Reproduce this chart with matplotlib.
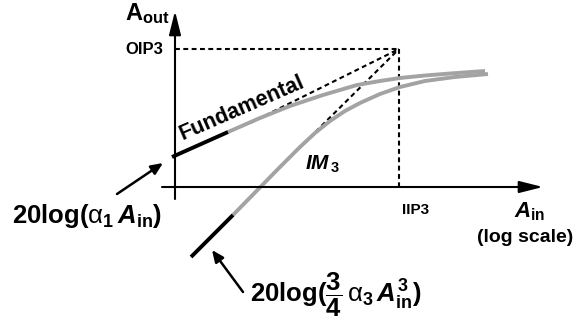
import matplotlib
matplotlib.use("Agg")
import matplotlib.pyplot as plt

plt.rcParams['font.family'] = ['Liberation Sans', 'DejaVu Sans']
plt.rcParams['mathtext.fontset'] = 'custom'
plt.rcParams['mathtext.rm'] = 'Liberation Sans'
plt.rcParams['mathtext.bf'] = 'Liberation Sans:bold'
plt.rcParams['mathtext.it'] = 'Liberation Sans:italic:bold'
plt.rcParams['lines.scale_dashes'] = False

# input level (log scale) vs output level, origin at the axes crossing
fund_lin_x = [-3, 53]
fund_lin_y = [30, 55]
fund_x = [53, 85, 115, 148, 182, 205, 225, 250, 275, 310]
fund_y = [55, 69, 81, 92, 102, 106, 109, 111.5, 113.5, 116]

im3_lin_x = [16, 58]
im3_lin_y = [-70, -28]
im3_x = [58, 105, 125, 140, 155, 170, 185, 205, 225, 250, 280, 313]
im3_y = [-28, 20, 40, 54, 66, 76, 84, 93, 100, 106, 110, 113]

iip3 = 224
oip3 = 138
fund_ext_start = (75, 64)
im3_ext_start = (105, 20)

fig = plt.figure(figsize=(5.84, 3.25), dpi=100)
ax = fig.add_axes([0, 0, 1, 1])
ax.set_xlim(-175, 409)
ax.set_ylim(-138, 187)
ax.set_axis_off()

# axes with arrows
ax.annotate('', xy=(0, 176), xytext=(0, -12),
            arrowprops=dict(arrowstyle='-|>,head_length=0.72,head_width=0.18',
                            mutation_scale=20, lw=1.5, color='k', shrinkA=0, shrinkB=0))
ax.annotate('', xy=(368, 0), xytext=(-13, 0),
            arrowprops=dict(arrowstyle='-|>,head_length=0.72,head_width=0.18',
                            mutation_scale=20, lw=1.5, color='k', shrinkA=0, shrinkB=0))

# intercept point guides
dash = dict(color='k', lw=1.5, dashes=(3.5, 2.5))
ax.plot([0, iip3], [oip3, oip3], **dash)
ax.plot([iip3, iip3], [oip3, 0], **dash)
ax.plot([fund_ext_start[0], iip3], [fund_ext_start[1], oip3], **dash)
ax.plot([im3_ext_start[0], iip3], [im3_ext_start[1], oip3], **dash)

# curves
gray = '#a3a3a3'
ax.plot(fund_x, fund_y, color=gray, lw=2.8, solid_capstyle='butt', solid_joinstyle='round')
ax.plot(im3_x, im3_y, color=gray, lw=2.8, solid_capstyle='butt', solid_joinstyle='round')
ax.plot(fund_lin_x, fund_lin_y, color='k', lw=2.8, solid_capstyle='butt')
ax.plot(im3_lin_x, im3_lin_y, color='k', lw=2.8, solid_capstyle='butt')

# labels
ax.text(-50, 167, r'$\mathbf{A}_{\mathbf{out}}$', fontsize=17, ha='left', va='baseline')
ax.text(-12, 137, 'OIP3', fontsize=12, fontweight='bold', ha='right', va='center')
ax.text(241, -23, 'IIP3', fontsize=11, fontweight='bold', ha='center', va='center')
ax.text(355, -30, r'$\mathit{A}_{\mathbf{in}}$', fontsize=16, ha='center', va='baseline')
ax.text(350, -50, '(log scale)', fontsize=14, fontweight='bold', ha='center', va='center')
ax.text(130, 17, r'$\mathit{IM}_{\,\mathbf{3}}$', fontsize=15, ha='left', va='baseline')
ax.text(8, 47, 'Fundamental', fontsize=15.5, fontweight='bold', rotation=23.5,
        rotation_mode='anchor', ha='left', va='baseline')

ax.text(-163, -36,
        r'$\mathbf{20log(}\mathrm{\alpha}_{\mathbf{1}}\,\mathit{A}_{\mathbf{in}}\mathbf{)}$',
        fontsize=18.5, ha='left', va='baseline')
ax.text(75, -115,
        r'$\mathbf{20log(}\dfrac{\mathbf{3}}{\mathbf{4}}\,\mathrm{\alpha}_{\mathbf{3}}\,\mathit{A}_{\mathbf{in}}^{\mathbf{3}}\mathbf{)}$',
        fontsize=18.5, ha='left', va='baseline')

arrow_kw = dict(arrowstyle='-|>,head_length=0.5,head_width=0.22',
                mutation_scale=14, lw=1.8, color='k', shrinkA=0, shrinkB=0)
ax.annotate('', xy=(-12, 24), xytext=(-58, -7), arrowprops=arrow_kw)
ax.annotate('', xy=(37, -63), xytext=(68, -105), arrowprops=arrow_kw)

fig.savefig('out.png', dpi=100)
